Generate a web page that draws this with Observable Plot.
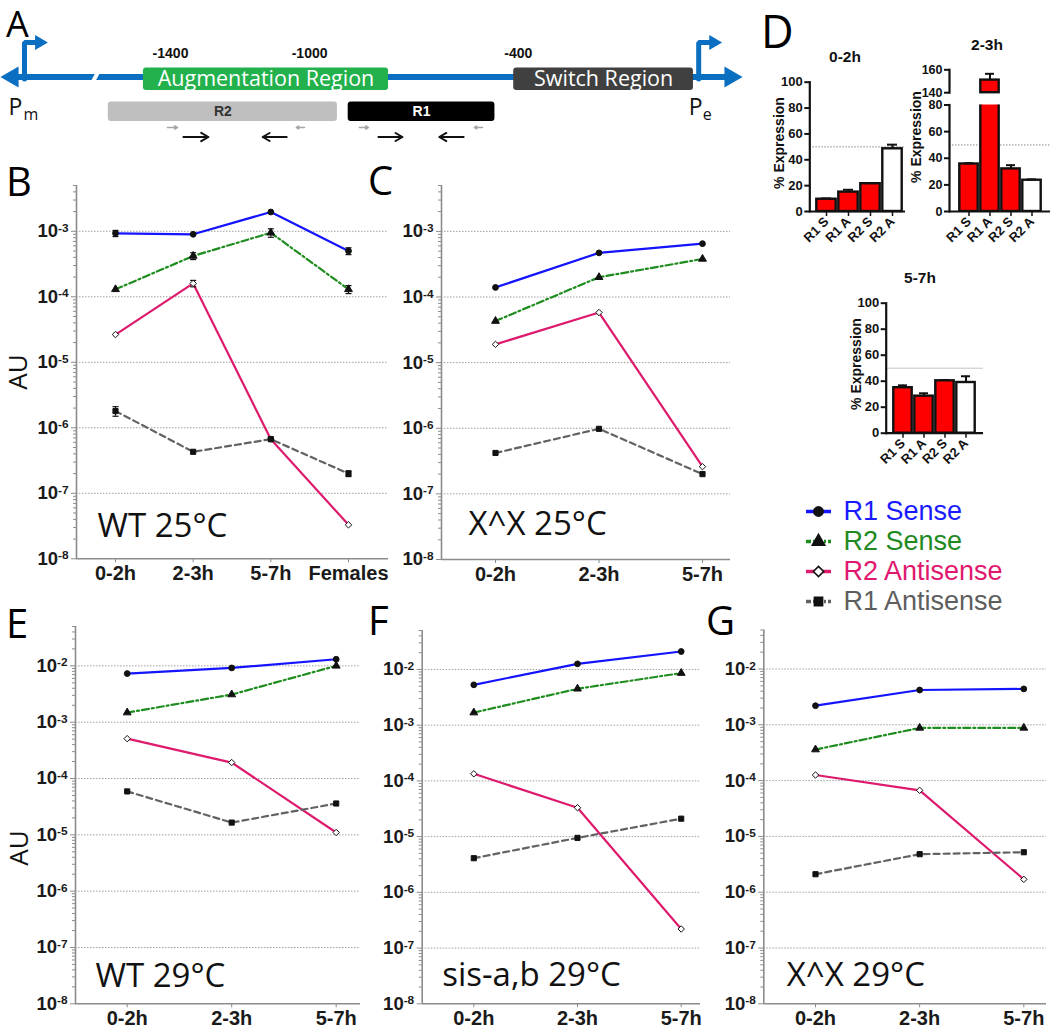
<!DOCTYPE html>
<html>
<head>
<meta charset="utf-8">
<script src="https://cdn.jsdelivr.net/npm/d3@7"></script>
<script src="https://cdn.jsdelivr.net/npm/@observablehq/plot@0.6"></script>
<style>
  html, body { margin: 0; padding: 0; background: #fff; }
  #fig { position: relative; width: 1050px; height: 1028px; overflow: hidden; background: #fff; }
  .panel { position: absolute; }
  .panel svg { display: block; overflow: visible; max-width: none; }
  .lbl { position: absolute; white-space: nowrap; line-height: 1; color: #111; }
  .letter { font-family: "Open Sans", sans-serif; font-size: 40px; color: #000; }
  .ctr { transform: translate(-50%, -50%); }
  .rot { transform: translate(-50%, -50%) rotate(-90deg); }
  .bold { font-family: "Liberation Sans", Arial, sans-serif; font-weight: bold; }
  .os { font-family: "Open Sans", sans-serif; }
</style>
</head>
<body>
<div id="fig"></div>
<script>
// ================= DATA =================
const timesWT25 = ["0-2h", "2-3h", "5-7h", "Females"];
const times = ["0-2h", "2-3h", "5-7h"];
const seriesNames = ["R1 Sense", "R2 Sense", "R2 Antisense", "R1 Antisense"];

// B: WT 25°C
const wt25_R1Sense = [9.3e-4, 9.0e-4, 1.97e-3, 5.0e-4];
const wt25_R2Sense = [1.3e-4, 4.2e-4, 9.5e-4, 1.3e-4];
const wt25_R2Anti  = [2.65e-5, 1.6e-4, 6.7e-7, 3.3e-8];
const wt25_R1Anti  = [1.8e-6, 4.3e-7, 6.7e-7, 2.0e-7];
const wt25_R1SenseErr = [1.0e-4, 0, 0, 0.6e-4];
const wt25_R2SenseErr = [0, 0.5e-4, 1.4e-4, 0.18e-4];
const wt25_R2AntiErr  = [0, 1.8e-5, 0, 0];
const wt25_R1AntiErr  = [0.3e-6, 0, 0.5e-7, 0.2e-7];

// C: X^X 25°C
const xx25_R1Sense = [1.4e-4, 4.7e-4, 6.5e-4];
const xx25_R2Sense = [4.3e-5, 2.0e-4, 3.8e-4];
const xx25_R2Anti  = [1.9e-5, 5.8e-5, 2.6e-7];
const xx25_R1Anti  = [4.2e-7, 9.8e-7, 2.0e-7];

// E: WT 29°C
const wt29_R1Sense = [7.3e-3, 9.2e-3, 1.31e-2];
const wt29_R2Sense = [1.48e-3, 3.1e-3, 1.0e-2];
const wt29_R2Anti  = [5.1e-4, 1.92e-4, 1.1e-5];
const wt29_R1Anti  = [5.9e-5, 1.65e-5, 3.6e-5];

// F: sis-a,b 29°C
const sis29_R1Sense = [5.3e-3, 1.26e-2, 2.1e-2];
const sis29_R2Sense = [1.68e-3, 4.5e-3, 8.6e-3];
const sis29_R2Anti  = [1.34e-4, 3.3e-5, 2.2e-7];
const sis29_R1Anti  = [4.1e-6, 9.5e-6, 2.1e-5];

// G: X^X 29°C
const xx29_R1Sense = [2.2e-3, 4.2e-3, 4.4e-3];
const xx29_R2Sense = [3.6e-4, 8.8e-4, 8.8e-4];
const xx29_R2Anti  = [1.26e-4, 6.7e-5, 1.7e-6];
const xx29_R1Anti  = [2.1e-6, 4.8e-6, 5.2e-6];

// D: % Expression
const barCats = ["R1 S", "R1 A", "R2 S", "R2 A"];
const pct_0_2 = [9.5, 15, 21.5, 48.5];
const pct_0_2_err = [0.6, 1.8, 0.5, 3.2];
const pct_2_3 = [35.7, 151, 32, 23.5];
const pct_2_3_err = [0.6, 5.5, 2.8, 0.6];
const pct_5_7 = [35, 28.5, 40.3, 39];
const pct_5_7_err = [1.8, 2.2, 0.6, 4.8];

// A: locus diagram (approximate bp coordinates)
const diagramDomain = [-1889, 268];
const dnaExtent = [-1889, 245];
const dnaBreak = -1616;
const promoters = [{label: "P", sub: "m", pos: -1820}, {label: "P", sub: "e", pos: 119}];
const regions = [{label: "Augmentation Region", start: -1478, end: -773}, {label: "Switch Region", start: -413, end: 104}];
const coordTicks = [-1400, -1000, -400];
const amplicons = [{label: "R2", start: -1579, end: -920}, {label: "R1", start: -889, end: -467}];
const primers = [
  {from: -1409, to: -1380, type: "outer"}, {from: -1363, to: -1291, type: "inner"},
  {from: -1066, to: -1135, type: "inner"}, {from: -1015, to: -1038, type: "outer"},
  {from: -857, to: -831, type: "outer"}, {from: -802, to: -733, type: "inner"},
  {from: -557, to: -627, type: "inner"}, {from: -503, to: -526, type: "outer"}
];

// ================= STYLES =================
const STYLE = {
  "R1 Sense":     {stroke: "#1414ff", dash: undefined, symbol: "circle",   fill: "#111", text: "#1a1aff"},
  "R2 Sense":     {stroke: "#1e8c1e", dash: "7,3,2,3", symbol: "triangle", fill: "#111", text: "#1f8a1f"},
  "R2 Antisense": {stroke: "#dd1a6c", dash: undefined, symbol: "diamond2", fill: "white", text: "#e0186f"},
  "R1 Antisense": {stroke: "#626262", dash: "6,4",     symbol: "square",   fill: "#111", text: "#5e5e5e"}
};
const AXIS_GRAY = "#8c8c8c";
const BASE_STYLE = {background: "transparent", fontFamily: "Liberation Sans, Arial, sans-serif", overflow: "visible"};
const capSymbol = {draw(ctx, size) { const w = Math.sqrt(size / Math.PI); ctx.moveTo(-w, 0); ctx.lineTo(w, 0); }};

const fig = document.getElementById("fig");
function place(node, left, top) {
  const d = document.createElement("div");
  d.className = "panel";
  d.style.left = left + "px";
  d.style.top = top + "px";
  d.appendChild(node);
  fig.appendChild(d);
  return node;
}
function label(text, cls, left, top, css) {
  const d = document.createElement("div");
  d.className = "lbl " + cls;
  d.style.left = left + "px";
  d.style.top = top + "px";
  if (css) Object.assign(d.style, css);
  d.textContent = text;
  fig.appendChild(d);
  return d;
}
function superscriptTicks(svg) {
  svg.querySelectorAll("text").forEach(t => {
    const m = /^10\^(-?\d+)$/.exec(t.textContent);
    if (!m) return;
    t.textContent = "10";
    const ts = document.createElementNS("http://www.w3.org/2000/svg", "tspan");
    ts.setAttribute("dy", "-0.45em");
    ts.setAttribute("font-size", "0.64em");
    ts.textContent = m[1];
    t.appendChild(ts);
  });
}

// ================= LINE PANELS =================
function linePanel(p) {
  const n = p.times.length;
  const step = (p.pts[1] - p.pts[0]) / (n - 1);
  const xd = [-(p.pts[0] - p.frameL) / step, (n - 1) + (p.frameR - p.pts[1]) / step];
  const rows = p.series.flatMap(s => s.values.map((v, i) => ({series: s.name, i, v, err: s.err ? s.err[i] : 0})));
  const errRows = rows.filter(d => d.err > 0);
  const caps = errRows.flatMap(d => [{i: d.i, v: d.v - d.err}, {i: d.i, v: d.v + d.err}]);
  const lo = Math.round(Math.log10(p.ydom[0])), hi = Math.floor(Math.log10(p.ydom[1]) + 1e-9);
  const majors = d3.range(lo, hi + 1).map(e => Math.pow(10, e));
  const minors = d3.scaleLog().domain(p.ydom).ticks().filter(t => !majors.some(m => Math.abs(t / m - 1) < 1e-6));
  const svg = Plot.plot({
    width: p.width, height: p.height,
    marginLeft: p.frameL - p.left, marginRight: p.left + p.width - p.frameR,
    marginTop: p.frameT - p.top, marginBottom: p.top + p.height - p.frameB,
    style: BASE_STYLE,
    x: {domain: xd, axis: null, label: null},
    y: {type: "log", domain: p.ydom, axis: null, label: null},
    marks: [
      Plot.gridY(majors.slice(1), {stroke: "#a0a0a0", strokeOpacity: 1, strokeWidth: 1, strokeDasharray: "1.5,1.5"}),
      Plot.axisY(minors, {tickSize: 3, tickFormat: () => "", stroke: AXIS_GRAY, label: null}),
      Plot.axisY(majors, {tickSize: 5, tickPadding: 3, tickFormat: d => "10^" + Math.round(Math.log10(d)), stroke: AXIS_GRAY, fill: "#1a1a1a", fontSize: 18.5, fontWeight: "bold", label: null}),
      Plot.axisX(d3.range(n), {tickSize: 4, tickPadding: 3, tickFormat: i => p.times[i], stroke: AXIS_GRAY, fill: "#1a1a1a", fontSize: 20, fontWeight: "bold", label: null}),
      Plot.ruleX([xd[0]], {stroke: AXIS_GRAY, strokeWidth: 1.6}),
      Plot.ruleY([p.ydom[0]], {stroke: AXIS_GRAY, strokeWidth: 1.6}),
      ...seriesNames.map(s => Plot.line(rows.filter(d => d.series === s), {x: "i", y: "v", stroke: STYLE[s].stroke, strokeWidth: 2.2, strokeDasharray: STYLE[s].dash})),
      Plot.ruleX(errRows, {x: "i", y1: d => d.v - d.err, y2: d => d.v + d.err, stroke: "#111", strokeWidth: 1.2}),
      Plot.dot(caps, {x: "i", y: "v", symbol: capSymbol, r: 3, stroke: "#111", strokeWidth: 1.2, fill: "none"}),
      Plot.dot(rows, {x: "i", y: "v", symbol: d => STYLE[d.series].symbol, fill: d => STYLE[d.series].fill, stroke: "#111", strokeWidth: 1, r: 2.9}),
      Plot.text([p.note], {text: d => d, frameAnchor: "bottom-left", textAnchor: "start", lineAnchor: "bottom", dx: p.noteDx, dy: p.noteDy, fontSize: 33, fontFamily: "Open Sans, sans-serif", fontWeight: "normal", fill: "#111"})
    ]
  });
  superscriptTicks(svg);
  return place(svg, p.left, p.top);
}

function mk(names, arrs, errs) {
  return names.map((name, k) => ({name, values: arrs[k], err: errs ? errs[k] : null}));
}

linePanel({times: timesWT25, series: mk(seriesNames, [wt25_R1Sense, wt25_R2Sense, wt25_R2Anti, wt25_R1Anti], [wt25_R1SenseErr, wt25_R2SenseErr, wt25_R2AntiErr, wt25_R1AntiErr]),
  left: 0, top: 160, width: 400, height: 440, frameL: 76, frameR: 388, frameT: 185, frameB: 558.3, pts: [115, 348],
  ydom: [1e-8, 5e-3], note: "WT 25°C", noteDx: 21, noteDy: -22});
linePanel({times, series: mk(seriesNames, [xx25_R1Sense, xx25_R2Sense, xx25_R2Anti, xx25_R1Anti]),
  left: 380, top: 160, width: 360, height: 440, frameL: 441, frameR: 730, frameT: 185, frameB: 559, pts: [495, 702],
  ydom: [1e-8, 5e-3], note: "X^X 25°C", noteDx: 27, noteDy: -25});
linePanel({times, series: mk(seriesNames, [wt29_R1Sense, wt29_R2Sense, wt29_R2Anti, wt29_R1Anti]),
  left: 0, top: 600, width: 370, height: 428, frameL: 75, frameR: 360, frameT: 626, frameB: 1003.3, pts: [126.7, 335.7],
  ydom: [1e-8, 5e-2], note: "WT 29°C", noteDx: 20, noteDy: -17});
linePanel({times, series: mk(seriesNames, [sis29_R1Sense, sis29_R2Sense, sis29_R2Anti, sis29_R1Anti]),
  left: 360, top: 600, width: 345, height: 428, frameL: 421.7, frameR: 700, frameT: 630, frameB: 1003.3, pts: [473.3, 680.7],
  ydom: [1e-8, 5e-2], note: "sis-a,b 29°C", noteDx: 20, noteDy: -18});
linePanel({times, series: mk(seriesNames, [xx29_R1Sense, xx29_R2Sense, xx29_R2Anti, xx29_R1Anti]),
  left: 700, top: 600, width: 350, height: 428, frameL: 763.3, frameR: 1046, frameT: 629.5, frameB: 1003.3, pts: [815, 1023.3],
  ydom: [1e-8, 5e-2], note: "X^X 29°C", noteDx: 23, noteDy: -18});

// ================= BAR PANELS (D) =================
function barPanel(p) {
  const rows = p.cats.map((c, i) => ({cat: c, v: p.vals[i], err: p.errs[i]})).filter(d => d.v > p.ydom[0]);
  const errRows = rows.filter(d => d.v <= p.ydom[1]);
  const svg = Plot.plot({
    width: p.width, height: p.height,
    marginLeft: p.frameL - p.left, marginRight: p.left + p.width - p.frameR,
    marginTop: p.frameT - p.top, marginBottom: p.top + p.height - p.frameB,
    style: BASE_STYLE,
    x: {type: "band", domain: p.cats, range: [p.barL - p.left, p.barR - p.left], padding: 0, axis: null, label: null},
    y: {domain: p.ydom, axis: null, label: null},
    marks: [
      p.ref != null ? Plot.ruleY([p.ref], {stroke: p.refColor, strokeWidth: 1, strokeDasharray: p.refDash}) : null,
      Plot.barY(rows, {x: "cat", y1: p.ydom[0], y2: "v", fill: d => d.cat === "R2 A" ? "white" : "#ff0000", stroke: "#111", strokeWidth: 2.4, insetLeft: 1.3, insetRight: 1.3, clip: !!p.clip}),
      Plot.ruleX(errRows, {x: "cat", y1: "v", y2: d => d.v + d.err, stroke: "#111", strokeWidth: 2}),
      Plot.tickY(errRows, {x: "cat", y: d => d.v + d.err, stroke: "#111", strokeWidth: 2, insetLeft: 6, insetRight: 6}),
      Plot.frame({anchor: "left", stroke: "#111", strokeWidth: 2.2}),
      p.xAxis ? Plot.ruleY([p.ydom[0]], {stroke: "#111", strokeWidth: 2.2}) : null,
      Plot.axisY(p.yticks, {tickSize: 5, tickPadding: 2, stroke: "#111", strokeWidth: 2, fill: "#111", fontSize: p.tickFont || 13, fontWeight: "bold", label: null}),
      p.xAxis ? Plot.axisX({tickSize: 5, tickPadding: 3, tickRotate: -45, stroke: "#111", strokeWidth: 1.5, fill: "#111", fontSize: 13, fontWeight: "bold", label: null}) : null
    ]
  });
  return place(svg, p.left, p.top);
}

barPanel({cats: barCats, vals: pct_0_2, errs: pct_0_2_err, ydom: [0, 100], yticks: [0, 20, 40, 60, 80, 100],
  left: 760, top: 70, width: 150, height: 186, frameL: 809.3, frameR: 905, frameT: 81.7, frameB: 211, barL: 815, barR: 903,
  xAxis: true, ref: 50, refColor: "#888", refDash: "1.5,1.5"});
barPanel({cats: barCats, vals: pct_2_3, errs: pct_2_3_err, ydom: [140, 160], yticks: [140, 160], tickFont: 12.5,
  left: 890, top: 60, width: 160, height: 40, frameL: 949, frameR: 1050, frameT: 69.3, frameB: 92.2, barL: 956.7, barR: 1043,
  xAxis: false});
barPanel({cats: barCats, vals: pct_2_3, errs: pct_2_3_err, ydom: [0, 80], yticks: [0, 20, 40, 60, 80], tickFont: 12.5,
  left: 890, top: 95, width: 160, height: 161, frameL: 949, frameR: 1050, frameT: 104.5, frameB: 211, barL: 956.7, barR: 1043,
  xAxis: true, clip: true, ref: 50, refColor: "#888", refDash: "1.5,1.5"});
barPanel({cats: barCats, vals: pct_5_7, errs: pct_5_7_err, ydom: [0, 100], yticks: [0, 20, 40, 60, 80, 100],
  left: 830, top: 290, width: 160, height: 188, frameL: 885.7, frameR: 983, frameT: 302.7, frameB: 432.7, barL: 891, barR: 977,
  xAxis: true, ref: 50, refColor: "#c4c4c4"});

// ================= LEGEND =================
(function legendPanel() {
  const svg = Plot.plot({
    width: 260, height: 125, margin: 0,
    style: BASE_STYLE,
    x: {domain: [0, 260], range: [0, 260], axis: null},
    y: {type: "point", domain: seriesNames, range: [15.5, 106.5], padding: 0, axis: null},
    marks: [
      ...seriesNames.map(s => Plot.ruleY([s], {y: d => d, x1: 16, x2: 41, stroke: STYLE[s].stroke, strokeWidth: 3.5, strokeDasharray: STYLE[s].dash ? "5,2,2,2" : undefined})),
      Plot.dot(seriesNames, {x: 28, y: d => d, symbol: d => STYLE[d].symbol, fill: d => STYLE[d].fill, stroke: "#111", strokeWidth: 1.6, r: 4.6}),
      Plot.text(seriesNames, {x: 53, y: d => d, text: d => d, fill: d => STYLE[d].text, fontSize: 27, textAnchor: "start", fontFamily: "Liberation Sans, Arial, sans-serif"})
    ]
  });
  place(svg, 790, 495);
})();

// ================= DIAGRAM (A) =================
(function diagramPanel() {
  const BLUE = "#0b6fc1";
  const Y = {dna: 76.5, prom: 42, coord: 53, regTop: 67.5, regBot: 90, ampTop: 101.5, ampBot: 121, primerOuter: 127, primerInner: 136.5, pLabel: 107.5, pSub: 114};
  const promPaths = promoters.flatMap(p => [{name: p.sub, x: p.pos, y: Y.dna + 2}, {name: p.sub, x: p.pos, y: Y.prom}, {name: p.sub, x: p.pos + 37, y: Y.prom}]);
  const regionFill = {"Augmentation Region": "#22b14c", "Switch Region": "#404040"};
  const ampFill = {"R2": "#bfbfbf", "R1": "#000"};
  const ampText = {"R2": "#333", "R1": "#fff"};
  const svg = Plot.plot({
    width: 750, height: 150, margin: 0,
    style: BASE_STYLE,
    x: {domain: diagramDomain, axis: null},
    y: {domain: [0, 150], range: [0, 150], axis: null},
    marks: [
      Plot.link([dnaExtent], {x1: d => d[0] + 20, x2: d => d[1] - 20, y1: Y.dna, y2: Y.dna, stroke: BLUE, strokeWidth: 6}),
      Plot.link([dnaBreak], {x1: d => d - 14, x2: d => d + 14, y1: Y.dna + 9, y2: Y.dna - 9, stroke: "white", strokeWidth: 4}),
      Plot.dot([dnaExtent[0]], {x: d => d, y: Y.dna, symbol: "triangle", rotate: -90, r: 7.8, fill: BLUE, dx: 12}),
      Plot.dot([dnaExtent[1]], {x: d => d, y: Y.dna, symbol: "triangle", rotate: 90, r: 7.8, fill: BLUE, dx: -12}),
      Plot.line(promPaths, {x: "x", y: "y", z: "name", stroke: BLUE, strokeWidth: 5, strokeLinejoin: "miter"}),
      Plot.dot(promoters, {x: d => d.pos + 37, y: Y.prom, symbol: "triangle", rotate: 90, r: 5.5, fill: BLUE, dx: 2}),
      Plot.rect(regions, {x1: "start", x2: "end", y1: Y.regTop, y2: Y.regBot, fill: d => regionFill[d.label], rx: 3}),
      Plot.text(regions, {x: d => (d.start + d.end) / 2, y: (Y.regTop + Y.regBot) / 2, text: "label", fill: "white", fontSize: 21.5, fontFamily: "Open Sans, sans-serif"}),
      Plot.text(coordTicks, {x: d => d, y: Y.coord, text: d => String(d), fontSize: 14, fontWeight: "bold", fill: "#111"}),
      Plot.rect(amplicons, {x1: "start", x2: "end", y1: Y.ampTop, y2: Y.ampBot, fill: d => ampFill[d.label], rx: 3}),
      Plot.text(amplicons, {x: d => (d.start + d.end) / 2, y: (Y.ampTop + Y.ampBot) / 2, text: "label", fill: d => ampText[d.label], fontSize: 14, fontWeight: "bold"}),
      Plot.arrow(primers.filter(d => d.type === "outer"), {x1: "from", x2: "to", y1: Y.primerOuter, y2: Y.primerOuter, stroke: "#a6a6a6", strokeWidth: 1.6, headLength: 5}),
      Plot.arrow(primers.filter(d => d.type === "inner"), {x1: "from", x2: "to", y1: Y.primerInner, y2: Y.primerInner, stroke: "#111", strokeWidth: 2, headLength: 8}),
      Plot.text(promoters.slice(0, 1), {x: "pos", y: Y.pLabel, text: "label", textAnchor: "start", dx: -16, fontSize: 23, fontFamily: "Open Sans, sans-serif", fill: "#111"}),
      Plot.text(promoters.slice(0, 1), {x: "pos", y: Y.pSub, text: "sub", textAnchor: "start", dx: -1, fontSize: 16, fontFamily: "Open Sans, sans-serif", fill: "#111"}),
      Plot.text(promoters.slice(1), {x: "pos", y: Y.pLabel, text: "label", textAnchor: "start", dx: -10, fontSize: 23, fontFamily: "Open Sans, sans-serif", fill: "#111"}),
      Plot.text(promoters.slice(1), {x: "pos", y: Y.pSub, text: "sub", textAnchor: "start", dx: 4, fontSize: 16, fontFamily: "Open Sans, sans-serif", fill: "#111"})
    ]
  });
  place(svg, 0, 0);
})();

// ================= TEXT LABELS =================
label("A", "letter", 6, 6, {fontSize: "36px"});
label("B", "letter", 6, 161);
label("C", "letter", 368, 160);
label("D", "letter", 761, 8, {fontSize: "45px"});
label("E", "letter", 6, 603);
label("F", "letter", 368, 600);
label("G", "letter", 706, 600);

label("AU", "os rot", 16.5, 372, {fontSize: "26px"});
label("AU", "os rot", 17.5, 848, {fontSize: "26px"});

label("0-2h", "bold ctr", 845, 57, {fontSize: "15.5px"});
label("2-3h", "bold ctr", 987, 45, {fontSize: "15.5px"});
label("5-7h", "bold ctr", 920, 278, {fontSize: "15.5px"});
label("% Expression", "bold rot", 779, 142.5, {fontSize: "14px"});
label("% Expression", "bold rot", 916, 136.5, {fontSize: "14px"});
label("% Expression", "bold rot", 856, 364, {fontSize: "14px"});
</script>
</body>
</html>
